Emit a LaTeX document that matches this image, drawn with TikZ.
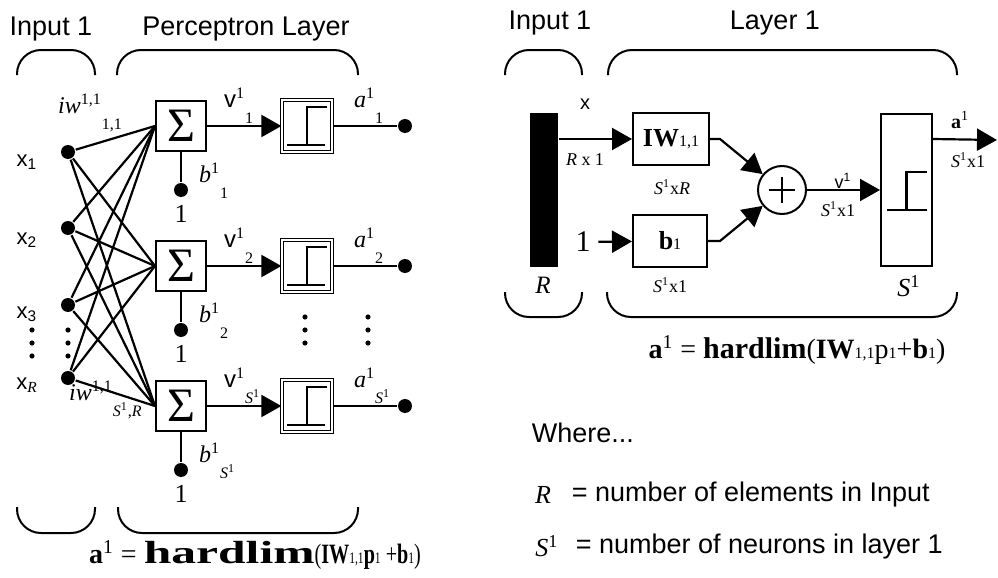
\documentclass[tikz,border=0pt]{standalone}
\usepackage{fontspec}
\usepackage{graphicx}
\setmainfont{Liberation Sans}
\newfontfamily\tms{Liberation Serif}
\usetikzlibrary{arrows.meta}

\newcommand{\fs}[1]{\fontsize{#1}{#1}\selectfont}
\newcommand{\mi}[1]{{\tms\itshape #1}}
\newcommand{\up}[1]{\textsuperscript{#1}}
\newcommand{\low}[1]{\raisebox{-8pt}{\fs{8}#1}}

\tikzset{
    sumbox/.style={draw, line width=1pt, minimum width=25pt, minimum height=25pt,
        inner sep=0pt, font=\tms\fs{24}},
    stepbox/.style={draw, double, double distance=0.6pt, line width=0.65pt,
        minimum width=25pt, minimum height=26pt, inner sep=0pt},
    blockbox/.style={draw, line width=1pt, minimum height=26pt, inner sep=0pt,
        font=\tms\fs{13}},
    dot/.style={circle, fill, inner sep=0pt, minimum size=7pt},
    title/.style={font=\fs{13.5}},
    xlbl/.style={font=\fs{11}, inner sep=0pt},
    lbl/.style={font=\tms\fs{12}, inner sep=0pt, anchor=base west},
    dim/.style={font=\tms\fs{9}, inner sep=0pt},
    grouparc/.style={line width=1pt, rounded corners=12pt},
    stepline/.style={line width=1.3pt},
}

\begin{document}
\begin{tikzpicture}[x=0.5pt, y=-0.5pt, line width=1.1pt,
    >={Triangle[length=10pt,width=11pt]}]
    \useasboundingbox (0,0) rectangle (998,578);

    % ---- perceptron layer, detailed ----
    \node[title] (inleft) at (51,29) {Input 1};
    \node[title] (perclayer) at (246,29) {Perceptron Layer};
    \draw[grouparc] (17,75) -- (17,50) -- (95,50) -- (95,75);
    \draw[grouparc] (117,75) -- (117,50) -- (358,50) -- (358,75);
    \draw[grouparc] (17,507) -- (17,533) -- (95,533) -- (95,507);
    \draw[grouparc] (118,507) -- (118,533) -- (358,533) -- (358,507);

    \foreach \i/\y in {1/152, 2/228, 3/305, 4/378} {
        \node[dot] (in\i) at (68,\y) {};
    }
    \node[xlbl] (x1) at (27,162) {x\textsubscript{1}};
    \node[xlbl] (x2) at (27,240) {x\textsubscript{2}};
    \node[xlbl] (x3) at (27,314) {x\textsubscript{3}};
    \node[xlbl] (xR) at (27,385) {x\textsubscript{\mi{R}}};
    \foreach \x in {32,68}
        \foreach \y in {330,343,356}
            \fill (\x,\y) circle (1.3pt);
    \foreach \x in {305,368}
        \foreach \y in {317,330,343}
            \fill (\x,\y) circle (1.3pt);

    \foreach \j/\y/\s in {1/126/1, 2/266/2, 3/406/{\mi{S}\up{1}}} {
        \node[sumbox] (sum\j) at (181,\y) {Σ};
        \node[stepbox] (hl\j) at (307,\y) {};
        \node[dot] (bias\j) at (181,\y+64) {};
        \node[font=\tms\fs{13}] (one\j) at (181,\y+88) {1};
        \node[dot] (out\j) at (405,\y) {};
        \draw (sum\j) -- (bias\j);
        \draw[->] (sum\j) -- (hl\j);
        \draw (hl\j) -- (out\j);
        \draw[stepline, shift={(307,\y)}]
            (-20,19) -- (18,19) (0,19) -- (0,-19) -- (20,-19);
        \node[lbl] (v\j) at (223,\y-19) {{\rmfamily v}\up{1}\low{\s}};
        \node[lbl] (a\j) at (353,\y-19) {\mi{a}\up{1}\low{\s}};
        \node[lbl] (b\j) at (198,\y+56) {\mi{b}\up{1}\low{\s}};
    }
    \foreach \i in {1,...,4}
        \foreach \j in {1,2,3}
            \draw (in\i) -- (sum\j.west);

    \node[lbl] (iwtop) at (57,113) {\mi{iw}\up{1,1}\low{1,1}};
    \node[lbl] (iwbot) at (68,400) {\mi{iw}\up{1,1}\low{\mi{S}\up{1},\mi{R}}};

    \node (eqleft) at (255,555) {\tms\fs{14}\textbf{a}\up{1} =
        \scalebox{1.55}[1]{\fs{16}\bfseries hardlim}\scalebox{0.72}[1]{(\textbf{IW}{\fs{8}1,1}\textbf{p}{\fs{8}1} +\textbf{b}{\fs{8}1})}};

    % ---- layer 1, abbreviated ----
    \node[title] (inright) at (550,23) {Input 1};
    \node[title] (layer) at (775,23) {Layer 1};
    \draw[grouparc] (505,75) -- (505,50) -- (582,50) -- (582,75);
    \draw[grouparc] (608,75) -- (608,50) -- (957,50) -- (957,75);
    \draw[grouparc] (505,292) -- (505,317) -- (582,317) -- (582,292);
    \draw[grouparc] (607,292) -- (607,317) -- (957,317) -- (957,292);

    \node[fill, minimum width=14pt, minimum height=77pt, inner sep=0pt] (pbar) at (544,190) {};
    \node[font=\tms\itshape\fs{12.5}] (rlbl) at (543,285) {R};
    \node[blockbox, minimum width=38pt] (iwbox) at (671,139) {{\bfseries IW}{\fs{8}1,1}};
    \node[blockbox, minimum width=37pt] (bbox) at (670,241) {{\bfseries b}{\fs{8}1}};
    \node[draw, circle, line width=1pt, minimum size=24pt, inner sep=0pt] (sumr) at (782,190) {};
    \draw[line width=1.3pt] (sumr.center) ++(-13,0) -- ++(26,0)
        (sumr.center) ++(0,-13) -- ++(0,26);
    \node[draw, line width=1pt, minimum width=25.5pt, minimum height=76pt, inner sep=0pt] (hlr) at (906.5,190) {};
    \draw[stepline, shift={(906.5,190)}]
        (-20,20) -- (20,20) (0,20) -- (0,-18) -- (20,-18);
    \node[font=\tms\fs{15}] (bone) at (583,242) {1};
    \coordinate (aout) at (997,140);

    \draw[->] (pbar.east |- iwbox) -- (iwbox);
    \draw[->] (bone) -- (bbox);
    \draw[->] (iwbox.east) -- ++(10,0) -- (sumr);
    \draw[->] (bbox.east) -- ++(12,0) -- (sumr);
    \draw[->] (sumr) -- (hlr);
    \draw[->] (hlr.east |- iwbox) -- (aout);

    \node[font=\fs{10}] (plbl) at (585,104) {x};
    \node[dim] (pdim) at (585,160) {\mi{R} x 1};
    \node[dim] (iwdim) at (672,187) {\mi{S}\up{1}x\mi{R}};
    \node[dim] (bdim) at (670,285) {\mi{S}\up{1}x1};
    \node[font=\fs{9}] (vlbl) at (843,181) {v\up{1}};
    \node[dim] (vdim) at (838,209) {\mi{S}\up{1}x1};
    \node[font=\tms\itshape\fs{13}] (slbl) at (909,286) {S\up{\upshape 1}};
    \node[font=\tms\bfseries\fs{10}] (albl) at (960,120) {a\up{\mdseries 1}};
    \node[dim] (adim) at (968,160) {\mi{S}\up{1}x1};

    \node (eqright) at (797,350) {\tms\fs{14}\textbf{a}\up{1} =
        {\fs{15}\bfseries hardlim}(\textbf{IW}{\fs{8}1,1}p{\fs{8}1}+\textbf{b}{\fs{8}1})};

    \node[font=\fs{13.5}, anchor=west] (where) at (524,433) {Where...};
    \node[font=\tms\itshape\fs{13}] (rsym) at (543,495) {R};
    \node[font=\fs{13.5}, anchor=west] (rdef) at (564,495) {= number of elements in Input};
    \node[font=\tms\itshape\fs{13}] (ssym) at (547,546) {S\up{\upshape 1}};
    \node[font=\fs{13.5}, anchor=west] (sdef) at (568,547) {= number of neurons in layer 1};
\end{tikzpicture}
\end{document}
